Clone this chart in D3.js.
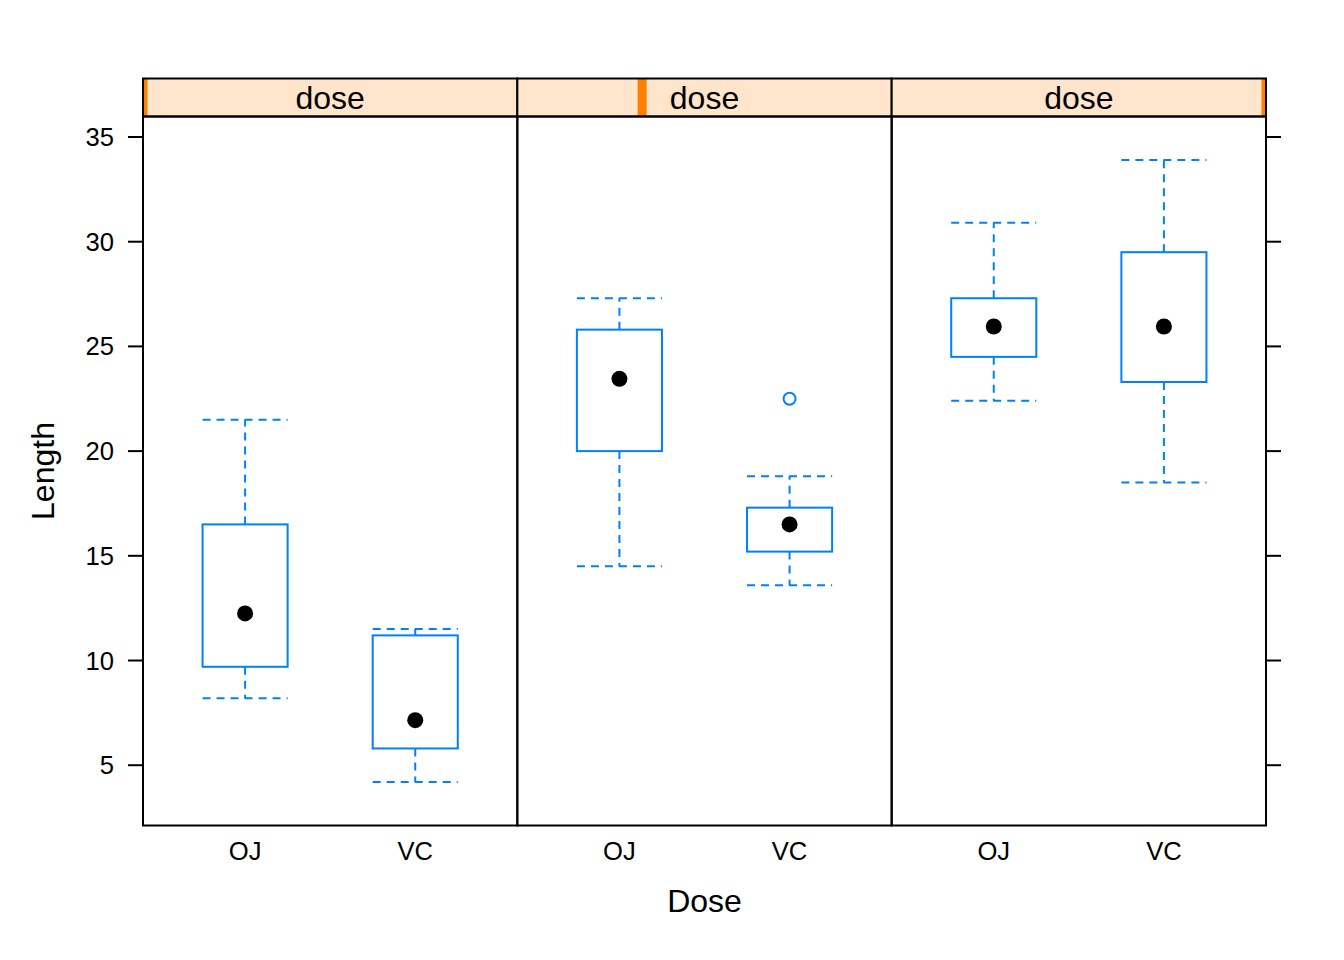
<!DOCTYPE html>
<html><head><meta charset="utf-8">
<script src="https://cdn.jsdelivr.net/npm/d3@7"></script>
<style>body{margin:0;background:#fff;} text{font-family:"Liberation Sans",Arial,sans-serif;}</style>
</head><body>
<svg id="c" width="1344" height="960"></svg>
<script>
const doses = [0.5, 1, 2];
const supps = ["OJ", "VC"];
// box stats per dose (rows) x supp (cols)
const lowWhisker = [[8.2, 4.2], [14.5, 13.6], [22.4, 18.5]];
const lowerHinge = [[9.7, 5.8], [20.0, 15.2], [24.5, 23.3]];
const medians    = [[12.25, 7.15], [23.45, 16.5], [25.95, 25.95]];
const upperHinge = [[16.5, 11.2], [25.8, 17.3], [27.3, 29.5]];
const highWhisker= [[21.5, 11.5], [27.3, 18.8], [30.9, 33.9]];
const outliers   = [[[], []], [[], [22.5]], [[], []]];
const yTicks = [5, 10, 15, 20, 25, 30, 35];

(function () {
const svg = d3.select("#c");
const pLeft = 143, pRight = 1266, pTop = 116.5, pBottom = 825.5, stripTop = 78.5;
const pw = (pRight - pLeft) / 3;
const blue = "#0080ff";

const y = d3.scaleLinear().domain([2.121, 35.979]).range([pBottom, pTop]);
const px = d3.scaleBand().domain(doses).range([pLeft, pRight]).padding(0);
const dScale = d3.scaleLinear().domain([0.5, 2]).range([0, 1]);

doses.forEach((d, i) => {
  const x0 = px(d);
  const x = d3.scaleLinear().domain([0.4, 2.6]).range([x0, x0 + pw]);
  const g = svg.append("g");
  const clipId = "clip" + i;
  svg.append("clipPath").attr("id", clipId).append("rect")
    .attr("x", x0).attr("y", stripTop).attr("width", pw).attr("height", pTop - stripTop);
  g.append("rect").attr("x", x0).attr("y", stripTop).attr("width", pw).attr("height", pTop - stripTop)
    .attr("fill", "#ffe5cc");
  const cx = x0 + dScale(d) * pw;
  g.append("rect").attr("clip-path", `url(#${clipId})`)
    .attr("x", cx - 4.5).attr("y", stripTop).attr("width", 9).attr("height", pTop - stripTop)
    .attr("fill", "#ff7f00");
  g.append("rect").attr("x", x0).attr("y", stripTop).attr("width", pw).attr("height", pTop - stripTop)
    .attr("fill", "none").attr("stroke", "#000").attr("stroke-width", 2);
  g.append("text").attr("x", x0 + pw / 2).attr("y", 108.5).attr("text-anchor", "middle")
    .attr("font-size", 32).text("dose");
  g.append("rect").attr("x", x0).attr("y", pTop).attr("width", pw).attr("height", pBottom - pTop)
    .attr("fill", "none").attr("stroke", "#000").attr("stroke-width", 2);
  supps.forEach((s, j) => {
    g.append("text").attr("x", x(j + 1)).attr("y", 859.5).attr("text-anchor", "middle")
      .attr("font-size", 25.6).text(s);
    const bx = x(j + 1), hw = (x(1.25) - x(1));
    const dash = "8,6";
    g.append("line").attr("x1", bx).attr("x2", bx).attr("y1", y(upperHinge[i][j])).attr("y2", y(highWhisker[i][j]))
      .attr("stroke", blue).attr("stroke-width", 2).attr("stroke-dasharray", dash);
    g.append("line").attr("x1", bx).attr("x2", bx).attr("y1", y(lowerHinge[i][j])).attr("y2", y(lowWhisker[i][j]))
      .attr("stroke", blue).attr("stroke-width", 2).attr("stroke-dasharray", dash);
    [highWhisker[i][j], lowWhisker[i][j]].forEach(v => {
      g.append("line").attr("x1", bx - hw).attr("x2", bx + hw).attr("y1", y(v)).attr("y2", y(v))
        .attr("stroke", blue).attr("stroke-width", 2).attr("stroke-dasharray", dash);
    });
    g.append("rect").attr("x", bx - hw).attr("y", y(upperHinge[i][j]))
      .attr("width", 2 * hw).attr("height", y(lowerHinge[i][j]) - y(upperHinge[i][j]))
      .attr("fill", "none").attr("stroke", blue).attr("stroke-width", 2);
    g.append("circle").attr("cx", bx).attr("cy", y(medians[i][j])).attr("r", 8).attr("fill", "#000");
    outliers[i][j].forEach(v => {
      g.append("circle").attr("cx", bx).attr("cy", y(v)).attr("r", 6)
        .attr("fill", "none").attr("stroke", blue).attr("stroke-width", 2);
    });
  });
});

const ga = svg.append("g");
yTicks.forEach(t => {
  ga.append("line").attr("x1", 128).attr("x2", pLeft).attr("y1", y(t)).attr("y2", y(t)).attr("stroke", "#000").attr("stroke-width", 2);
  ga.append("line").attr("x1", pRight).attr("x2", pRight + 15).attr("y1", y(t)).attr("y2", y(t)).attr("stroke", "#000").attr("stroke-width", 2);
  ga.append("text").attr("x", 114).attr("y", y(t) + 9).attr("text-anchor", "end").attr("font-size", 25.6).text(t);
});

svg.append("text").attr("x", (pLeft + pRight) / 2).attr("y", 912).attr("text-anchor", "middle")
  .attr("font-size", 32).text("Dose");
svg.append("text").attr("transform", `translate(54,${(pTop + pBottom) / 2}) rotate(-90)`)
  .attr("text-anchor", "middle").attr("font-size", 32).text("Length");
})();
</script>
</body></html>
